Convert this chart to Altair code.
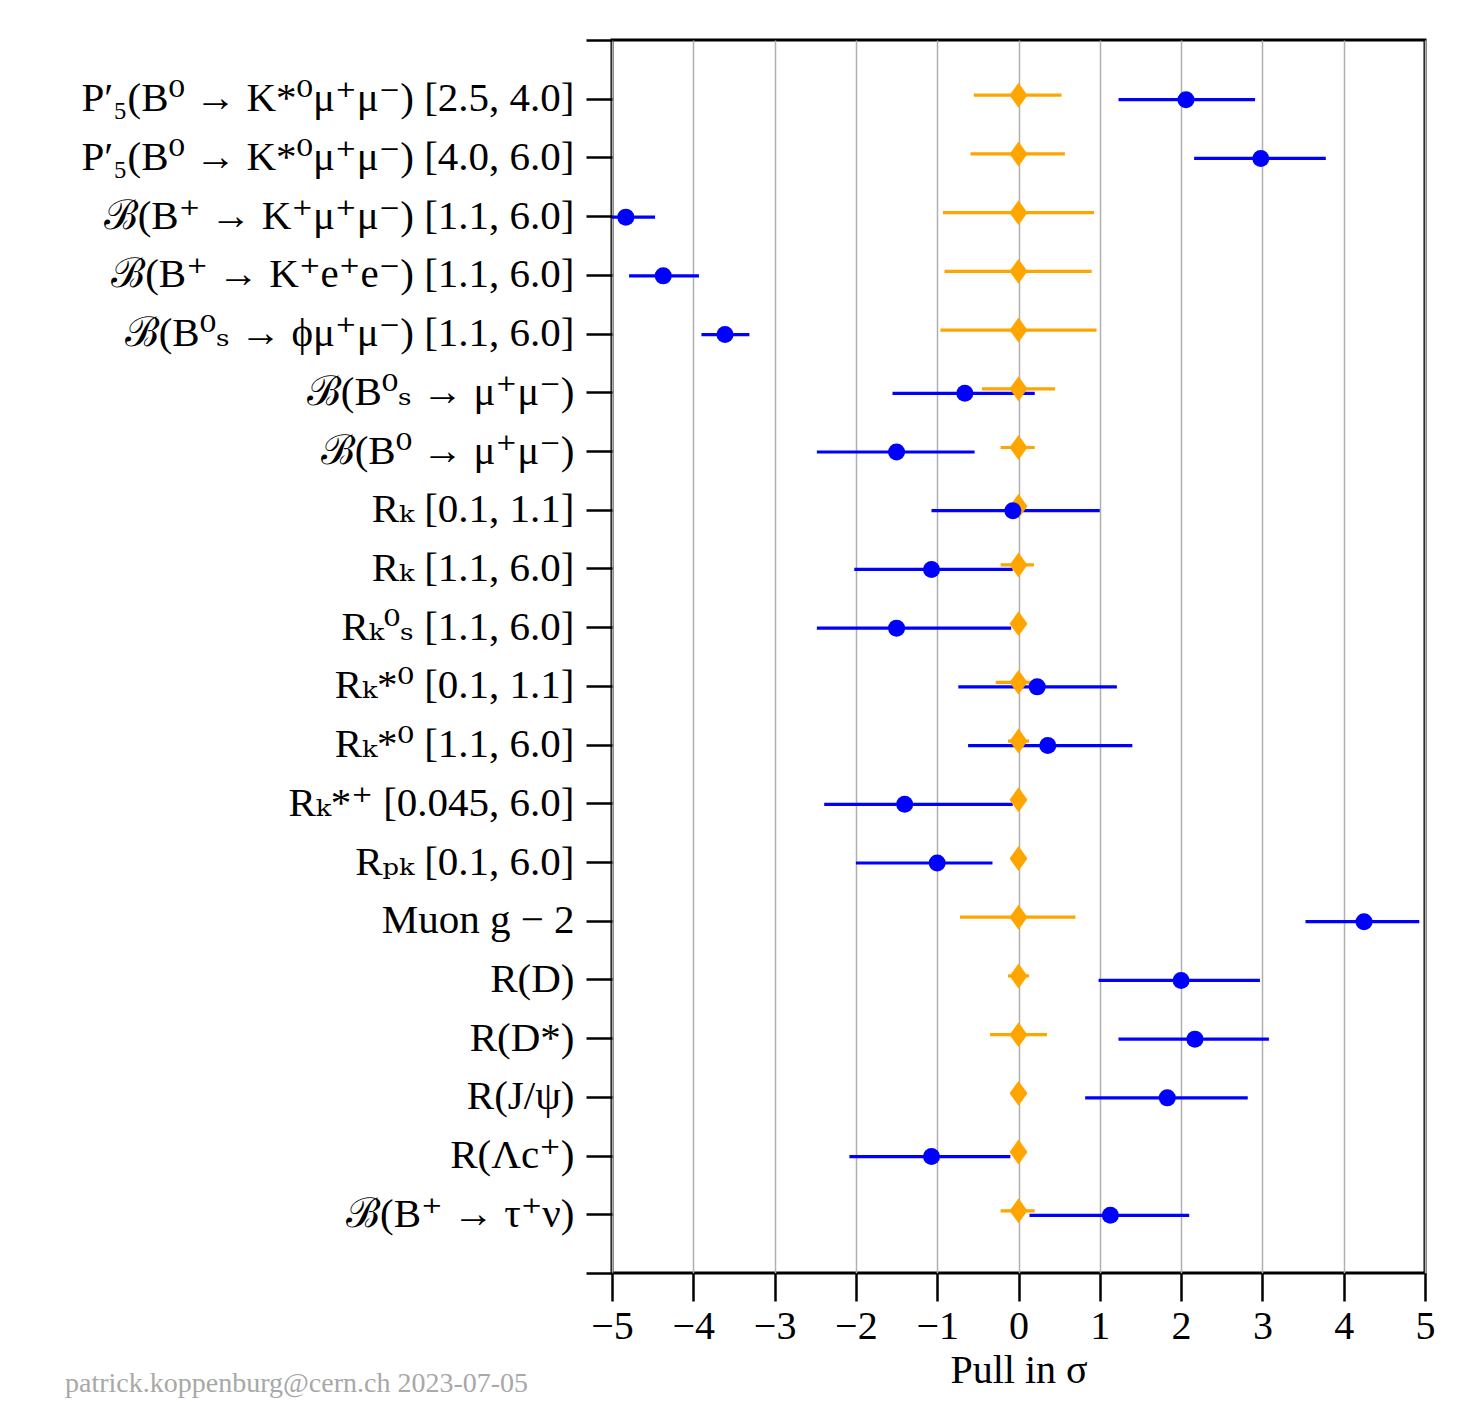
import json
import altair as alt
import pandas as pd

labels = [
    "P′₅(B⁰ → K*⁰μ⁺μ⁻) [2.5, 4.0]",
    "P′₅(B⁰ → K*⁰μ⁺μ⁻) [4.0, 6.0]",
    "ℬ(B⁺ → K⁺μ⁺μ⁻) [1.1, 6.0]",
    "ℬ(B⁺ → K⁺e⁺e⁻) [1.1, 6.0]",
    "ℬ(B⁰ₛ → ϕμ⁺μ⁻) [1.1, 6.0]",
    "ℬ(B⁰ₛ → μ⁺μ⁻)",
    "ℬ(B⁰ → μ⁺μ⁻)",
    "Rₖ [0.1, 1.1]",
    "Rₖ [1.1, 6.0]",
    "Rₖ⁰ₛ [1.1, 6.0]",
    "Rₖ*⁰ [0.1, 1.1]",
    "Rₖ*⁰ [1.1, 6.0]",
    "Rₖ*⁺ [0.045, 6.0]",
    "Rₚₖ [0.1, 6.0]",
    "Muon g − 2",
    "R(D)",
    "R(D*)",
    "R(J/ψ)",
    "R(Λc⁺)",
    "ℬ(B⁺ → τ⁺ν)",
]

# measured pulls (blue)
meas_val = [2.06, 2.98, -4.83, -4.37, -3.61, -0.66, -1.50, -0.07, -1.07, -1.50,
            0.23, 0.36, -1.40, -1.00, 4.25, 2.00, 2.17, 1.83, -1.07, 1.13]
meas_lo = [1.23, 2.16, -5.00, -4.79, -3.90, -1.55, -2.48, -1.07, -2.02, -2.48,
           -0.74, -0.62, -2.39, -2.00, 3.53, 0.985, 1.23, 0.82, -2.08, 0.135]
meas_hi = [2.91, 3.78, -4.47, -3.93, -3.31, 0.20, -0.54, 1.00, -0.07, -0.09,
           1.21, 1.40, -0.07, -0.32, 4.93, 2.97, 3.08, 2.82, -0.10, 2.10]

# prediction (orange), centred at zero
pred_val = [0.0] * 20
pred_lo = [-0.55, -0.59, -0.93, -0.91, -0.96, -0.45, -0.22, -0.05, -0.22, -0.05,
           -0.28, -0.13, -0.05, -0.05, -0.72, -0.13, -0.35, -0.05, -0.05, -0.22]
pred_hi = [0.53, 0.57, 0.93, 0.90, 0.96, 0.45, 0.20, 0.05, 0.19, 0.05,
           0.28, 0.13, 0.05, 0.05, 0.70, 0.13, 0.35, 0.05, 0.05, 0.20]

rows = list(range(len(labels)))
meas = pd.DataFrame({"row": rows, "val": meas_val, "lo": meas_lo, "hi": meas_hi})
pred = pd.DataFrame({"row": rows, "val": pred_val, "lo": pred_lo, "hi": pred_hi})

FONT = "Liberation Serif, DejaVu Serif, serif"
BLUE = "#0000ff"
ORANGE = "#ffa500"

label_js = json.dumps(labels, ensure_ascii=False)

xscale = alt.Scale(domain=[-5, 5], nice=False, zero=False)
yscale = alt.Scale(domain=[-1, 20], reverse=True, nice=False, zero=False)

xaxis = alt.Axis(
    values=list(range(-5, 6)), title="Pull in σ", grid=True,
    gridColor="#b0b0b0", gridWidth=1.5, domain=False,
    tickSize=28, tickWidth=2.5, tickColor="black",
    labelFontSize=40, labelFont=FONT, labelColor="black", labelPadding=5,
    labelFlush=False,
    titleFontSize=40, titleFont=FONT, titleFontWeight="normal", titleColor="black",
    titlePadding=4, format="d",
)
yaxis = alt.Axis(
    values=list(range(-1, 21)), title=None, grid=False, domain=False,
    tickSize=26, tickWidth=2.5, tickColor="black",
    labelFontSize=41, labelFont=FONT, labelColor="black", labelPadding=12,
    labelLimit=800, labelFlush=False,
    labelExpr=f"datum.value >= 0 && datum.value <= 19 ? {label_js}[datum.value] : ''",
    labelBaseline="middle",
)

x_enc = alt.X("lo:Q", scale=xscale, axis=xaxis)
y_enc = alt.Y("row:Q", scale=yscale, axis=yaxis)

pred_bars = alt.Chart(pred).mark_rule(color=ORANGE, strokeWidth=3.2, yOffset=-3.5, clip=True).encode(
    x=x_enc, x2="hi:Q", y=y_enc)
meas_bars = alt.Chart(meas).mark_rule(color=BLUE, strokeWidth=3.2, yOffset=1, clip=True).encode(
    x=alt.X("lo:Q", scale=xscale), x2="hi:Q", y=alt.Y("row:Q", scale=yscale))
pred_pts = alt.Chart(pred).mark_point(
    shape="M0,-1L0.72,0L0,1L-0.72,0Z", filled=True, opacity=1, color=ORANGE,
    size=620, yOffset=-3.5, clip=True).encode(
    x=alt.X("val:Q", scale=xscale), y=alt.Y("row:Q", scale=yscale))
meas_pts = alt.Chart(meas).mark_point(
    shape="circle", filled=True, opacity=1, color=BLUE, size=290, yOffset=1, clip=True).encode(
    x=alt.X("val:Q", scale=xscale), y=alt.Y("row:Q", scale=yscale))

chart = alt.layer(pred_bars, meas_bars, pred_pts, meas_pts).properties(
    width=813, height=1233,
    autosize=alt.AutoSizeParams(type="none"),
    padding={"left": 604, "top": 32, "right": 30, "bottom": 132},
    background="white",
    title=alt.TitleParams(
        "patrick.koppenburg@cern.ch 2023-07-05", orient="bottom", anchor="start",
        frame="group", dx=-547, dy=-24, fontSize=28, font=FONT, color="#a8a8a8",
        fontWeight="normal"),
).configure_view(stroke="black", strokeWidth=3)

chart.save("out.html", embed_options={"renderer": "svg", "actions": False})
